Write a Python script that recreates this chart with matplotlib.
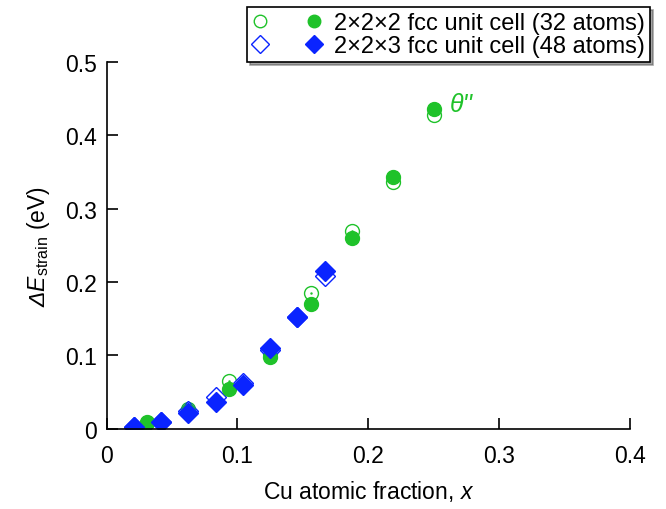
import matplotlib
matplotlib.use("Agg")
import matplotlib.pyplot as plt
from matplotlib.legend_handler import HandlerTuple

plt.rcParams['font.family'] = ['Liberation Sans', 'DejaVu Sans']
# rm is italic so that the capital Delta comes out slanted; sf stays upright
plt.rcParams['mathtext.fontset'] = 'custom'
plt.rcParams['mathtext.rm'] = 'Liberation Sans:italic'
plt.rcParams['mathtext.it'] = 'Liberation Sans:italic'
plt.rcParams['mathtext.sf'] = 'Liberation Sans'

# 2x2x2 fcc cell (32 atoms)
x32 = [1/32, 2/32, 3/32, 4/32, 5/32, 6/32, 7/32, 8/32]
e32_filled = [0.009, 0.025, 0.054, 0.098, 0.170, 0.260, 0.343, 0.436]
e32_open = [0.008, 0.027, 0.065, 0.103, 0.185, 0.270, 0.336, 0.428]

# 2x2x3 fcc cell (48 atoms)
x48 = [1/48, 2/48, 3/48, 4/48, 5/48, 6/48, 7/48, 8/48]
e48_filled = [0.003, 0.009, 0.022, 0.037, 0.060, 0.110, 0.152, 0.215]
e48_open = [0.003, 0.010, 0.024, 0.043, 0.063, 0.108, 0.152, 0.208]

xticks = [0, 0.1, 0.2, 0.3, 0.4]
yticks = [0, 0.1, 0.2, 0.3, 0.4, 0.5]

green = '#1fc22a'
blue = '#0a24ff'

fig = plt.figure(figsize=(6.66, 5.10), dpi=100)
ax = fig.add_axes([0.160, 0.157, 0.786, 0.72])

o32, = ax.plot(x32, e32_open, 'o', ms=10, mfc='white', mec=green, mew=1.0, ls='none')
ax.plot(x32, e32_open, '.', ms=1.5, color=green, ls='none')
o48, = ax.plot(x48, e48_open, 'D', ms=10, mfc='white', mec=blue, mew=1.0, ls='none')
ax.plot(x48, e48_open, '.', ms=1.5, color=blue, ls='none')
f32, = ax.plot(x32, e32_filled, 'o', ms=10, color=green, ls='none')
f48, = ax.plot(x48, e48_filled, 'D', ms=10, color=blue, ls='none')

ax.text(0.262, 0.443, "θ''", color=green, fontsize=18, style='italic', va='center')

ax.set_xlim(0, 0.4)
ax.set_ylim(0, 0.5)
ax.set_xticks(xticks)
ax.set_xticklabels(['0' if t == 0 else str(t) for t in xticks])
ax.set_yticks(yticks)
ax.set_yticklabels(['0' if t == 0 else str(t) for t in yticks])
ax.tick_params(direction='in', length=8, width=1.2, labelsize=16.5)
ax.tick_params(axis='x', pad=11)
ax.tick_params(axis='y', pad=7)
ax.spines['top'].set_visible(False)
ax.spines['right'].set_visible(False)
for s in ['left', 'bottom']:
    ax.spines[s].set_linewidth(1.2)

ax.set_xlabel('Cu atomic fraction, $x$', fontsize=16.5, labelpad=8)
ax.set_ylabel('$ΔE_{\\mathsf{strain}}$ (eV)', fontsize=16.5, labelpad=9)

leg = fig.legend([(o32, f32), (o48, f48)],
                 ['2×2×2 fcc unit cell (32 atoms)', '2×2×3 fcc unit cell (48 atoms)'],
                 handler_map={tuple: HandlerTuple(ndivide=None, pad=1.6)},
                 loc='upper right', bbox_to_anchor=(0.983, 0.993),
                 fontsize=17, frameon=True, fancybox=False, shadow=True,
                 handlelength=3.0, handletextpad=0.5, borderpad=0.2,
                 labelspacing=0.05, edgecolor='black', markerscale=0.9,
                 borderaxespad=0.2)
leg.get_frame().set_linewidth(1.2)

fig.savefig('out.png', dpi=100)
